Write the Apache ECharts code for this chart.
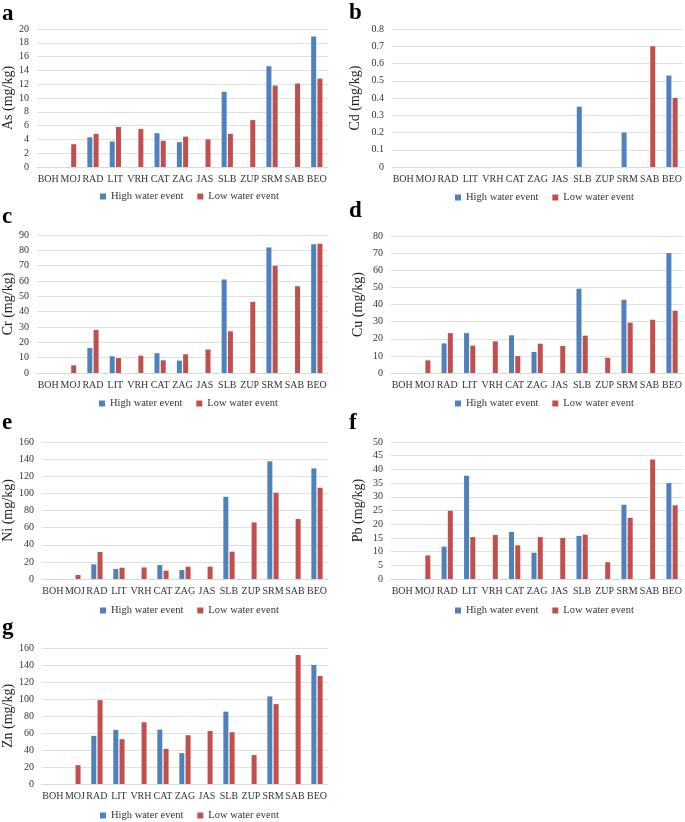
<!DOCTYPE html>
<html>
<head>
<meta charset="utf-8">
<script src="https://cdn.jsdelivr.net/npm/echarts@6/dist/echarts.min.js"></script>
<style>
html,body{margin:0;padding:0;background:#fff;}
#main{width:685px;height:822px;}
</style>
</head>
<body>
<div id="main"></div>
<script>
const categories = ['BOH','MOJ','RAD','LIT','VRH','CAT','ZAG','JAS','SLB','ZUP','SRM','SAB','BEO'];
const seriesNames = ['High water event','Low water event'];

const asHigh = [null,null,4.3,3.7,null,4.9,3.6,null,10.9,null,14.6,null,18.9];
const asLow  = [null,3.3,4.8,5.8,5.5,3.8,4.4,4.0,4.8,6.8,11.8,12.1,12.8];

const cdHigh = [null,null,null,null,null,null,null,null,0.35,null,0.2,null,0.53];
const cdLow  = [null,null,null,null,null,null,null,null,null,null,null,0.7,0.4];

const crHigh = [null,null,16.3,10.9,null,12.9,8.1,null,61,null,81.9,null,83.9];
const crLow  = [null,5,28.1,9.8,11.3,8.3,12.2,15.3,27.2,46.4,69.9,56.6,84.3];

const cuHigh = [null,null,17.3,23.3,null,22,12.3,null,49.2,null,42.8,null,70];
const cuLow  = [null,7.4,23.3,16,18.5,9.9,17.1,15.8,21.8,8.9,29.4,31.1,36.4];

const niHigh = [null,null,17.1,11.7,null,16.3,10.5,null,96.1,null,137.4,null,129.2];
const niLow  = [null,4.7,31.5,13.2,13.5,9.7,14.4,14.5,31.9,66.1,100.8,70,106.6];

const pbHigh = [null,null,11.8,37.7,null,17.2,9.6,null,15.7,null,27.1,null,35];
const pbLow  = [null,8.6,24.9,15.3,16.1,12.3,15.3,15,16.2,6.1,22.3,43.6,26.9];

const znHigh = [null,null,56.6,63.6,null,64,36.3,null,85.1,null,103,null,140.1];
const znLow  = [null,22.2,98.7,52.7,72.6,41.4,57.4,62.4,60.9,34,94,151.8,127.1];

const panelLetters = ['a','b','c','d','e','f','g'];
const yNames = ['As (mg/kg)','Cd (mg/kg)','Cr (mg/kg)','Cu (mg/kg)','Ni (mg/kg)','Pb (mg/kg)','Zn (mg/kg)'];
const yMax = [20,0.8,90,80,160,50,160];
const yInterval = [2,0.1,10,10,20,5,20];
const panelData = [[asHigh,asLow],[cdHigh,cdLow],[crHigh,crLow],[cuHigh,cuLow],[niHigh,niLow],[pbHigh,pbLow],[znHigh,znLow]];

const FONT = "'Liberation Serif','Times New Roman',serif";
const COLORS = ['#4F81BD','#C0504D'];

// layout: [left, top, width, height, legendLeft, legendTop, letterX, letterY, nameGap]
const layout = [
  [36, 29, 292, 138, 95, 186, 2, 3, 22],
  [392, 29, 292, 138, 450, 187, 349, 2, 30],
  [36, 235, 292, 138, 94, 393, 2, 206, 22],
  [391, 236, 293, 137, 450, 393, 349, 200, 26],
  [40, 442, 288, 137, 95, 600, 2, 412, 26],
  [391, 442, 293, 137, 450, 600, 349, 412, 26],
  [40, 648, 288, 136, 95, 805, 2, 617, 26]
];

const grid = [], xAxis = [], yAxis = [], series = [], legend = [], graphic = [];
layout.forEach((L, i) => {
  grid.push({left: L[0], top: L[1], width: L[2], height: L[3], containLabel: false});
  xAxis.push({
    type: 'category', gridIndex: i, data: categories,
    axisLine: {show: true, lineStyle: {color: '#D9D9D9', width: 1}},
    axisTick: {show: false},
    axisLabel: {color: '#333', fontFamily: FONT, fontSize: 10, interval: 0, margin: 7}
  });
  yAxis.push({
    type: 'value', gridIndex: i, min: 0, max: yMax[i], interval: yInterval[i],
    name: yNames[i], nameLocation: 'middle', nameGap: L[8], nameRotate: 90,
    nameTextStyle: {color: '#222', fontFamily: FONT, fontSize: 14},
    axisLine: {show: false}, axisTick: {show: false},
    axisLabel: {color: '#333', fontFamily: FONT, fontSize: 10, margin: 8},
    splitLine: {show: true, lineStyle: {color: '#E0E0E0', width: 1}}
  });
  panelData[i].forEach((arr, s) => {
    series.push({
      type: 'bar', name: seriesNames[s], xAxisIndex: i, yAxisIndex: i,
      data: arr, barWidth: 5, barGap: '25%',
      itemStyle: {color: COLORS[s]}, silent: true, animation: false
    });
  });
  legend.push({
    data: seriesNames, left: L[4], top: L[5], itemWidth: 6, itemHeight: 6,
    itemGap: 14, icon: 'rect',
    textStyle: {color: '#333', fontFamily: FONT, fontSize: 10.5},
    selectedMode: false
  });
  graphic.push({
    type: 'text', left: L[6], top: L[7],
    style: {text: panelLetters[i], font: "bold 23px 'Liberation Serif', serif", fill: '#000'}
  });
});

const chart = echarts.init(document.getElementById('main'), null, {renderer: 'canvas'});
chart.setOption({
  backgroundColor: '#fff',
  animation: false,
  grid, xAxis, yAxis, series, legend, graphic
});
</script>
</body>
</html>
